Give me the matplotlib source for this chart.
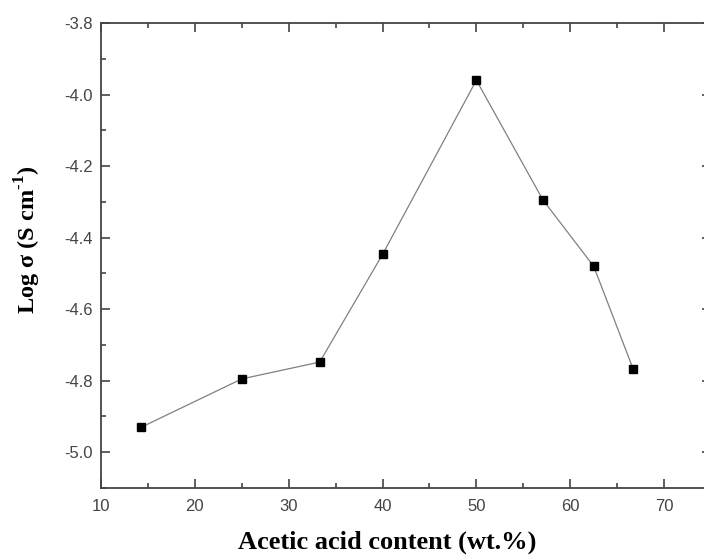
import numpy as np
import matplotlib
matplotlib.use("Agg")
import matplotlib.pyplot as plt
from matplotlib.ticker import MultipleLocator, FormatStrFormatter

# acetic acid content (wt.%) and log conductivity
acid = [14.3, 25.0, 33.3, 40.0, 50.0, 57.1, 62.5, 66.7]
log_sigma = [-4.93, -4.795, -4.748, -4.447, -3.96, -4.295, -4.48, -4.767]

plt.rcParams['axes.unicode_minus'] = False
plt.rcParams['mathtext.fontset'] = 'custom'
plt.rcParams['mathtext.rm'] = 'Liberation Serif:bold'
plt.rcParams['mathtext.bf'] = 'Liberation Serif:bold'

fig = plt.figure(figsize=(7.04, 5.56), dpi=100)
# right spine sits just outside the picture, as in the original scan
ax = fig.add_axes([101/704, 1-488/556, 610/704, 465/556])

ax.plot(acid, log_sigma, color='#808080', lw=0.9, marker='s', ms=6.3,
        mfc='black', mec='black', zorder=3)

ax.set_xlim(10, 75)
ax.set_ylim(-5.1, -3.8)
ax.xaxis.set_major_locator(MultipleLocator(10))
ax.xaxis.set_minor_locator(MultipleLocator(5))
ax.yaxis.set_major_locator(MultipleLocator(0.2))
ax.yaxis.set_minor_locator(MultipleLocator(0.1))
ax.yaxis.set_major_formatter(FormatStrFormatter('%.1f'))

for s in ax.spines.values():
    s.set_linewidth(1.3)
    s.set_color('#444444')

ax.tick_params(which='both', direction='in', top=True, right=True,
               color='#444444', width=1.2)
ax.tick_params(which='major', length=6.5, labelsize=12, labelcolor='#444444')
ax.tick_params(which='minor', length=3.5)
ax.tick_params(axis='x', which='major', pad=8)
ax.tick_params(axis='y', which='major', pad=6)
for lab in ax.get_xticklabels() + ax.get_yticklabels():
    lab.set_family('Liberation Sans')

ax.set_xlabel('Acetic acid content (wt.%)', family='Liberation Serif',
              fontweight='bold', fontsize=19)
ax.set_ylabel(r'Log σ (S cm$^{\text{-}1}$)', family='Liberation Serif',
              fontweight='bold', fontsize=17.5)
ax.xaxis.set_label_coords((387 - 101) / 610, -(542 - 488) / 465)
ax.yaxis.set_label_coords(-(101 - 28) / 610, (488 - 240) / 465)
ax.xaxis.label.set_va('center')
ax.yaxis.label.set_va('center')

fig.savefig('out.png', dpi=100)
